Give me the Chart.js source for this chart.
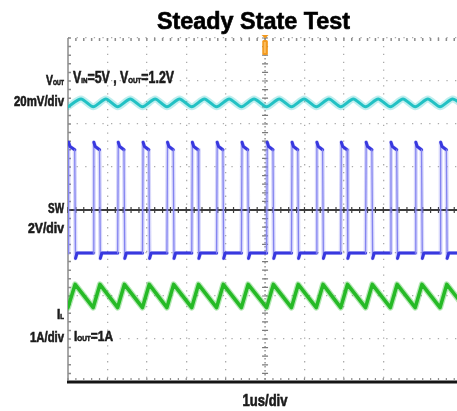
<!DOCTYPE html>
<html>
<head>
<meta charset="utf-8">
<script src="https://cdn.jsdelivr.net/npm/chart.js@4.4.1/dist/chart.umd.min.js"></script>
<style>
  html, body { margin: 0; padding: 0; background: #fff; overflow: hidden; }
</style>
</head>
<body>
<canvas id="scope" width="457" height="411"></canvas>
<script>
// time base 1 us/div, the visible screen stops a bit before the 10th division
const timeMax = 9.87;

// SW node edges (us)
const swRise = [0.00, 0.64, 1.26, 1.89, 2.51, 3.14, 3.77, 4.40, 5.04, 5.67, 6.30, 6.92, 7.55, 8.18, 8.81, 9.44, 10.07];
const swFall = [0.18, 0.81, 1.43, 2.06, 2.68, 3.31, 3.94, 4.57, 5.21, 5.84, 6.47, 7.09, 7.72, 8.35, 8.98, 9.61];
// SW levels (V): overshoot after the rising edge, flat top, droop before the fall, undershoot, low
const swLevels = [5.15, 4.95, 4.8, -0.25, 0.0];

// inductor current (A), valley at each rising edge, peak at each falling edge
const ilValley = 0.73;
const ilPeak = 1.27;

// output ripple (mV, ac coupled)
const voutValley = -2.0;
const voutPeak = 1.6;

// build the traces from the edges
const swData = [];
const ilData = [];
const voutData = [];
swRise.forEach((t, i) => {
  swData.push({x: t, y: swLevels[4]});
  swData.push({x: t + 0.015, y: swLevels[0]});
  swData.push({x: t + 0.05, y: swLevels[1]});
  ilData.push({x: t, y: ilValley});
  voutData.push({x: t, y: voutValley});
  if (i < swFall.length) {
    const f = swFall[i];
    swData.push({x: f - 0.01, y: swLevels[2]});
    swData.push({x: f + 0.01, y: swLevels[3]});
    swData.push({x: f + 0.05, y: swLevels[4]});
    ilData.push({x: f, y: ilPeak});
    voutData.push({x: f + 0.15, y: voutPeak});
  }
});

const isEdge = c => Math.abs(c.p1.parsed.y - c.p0.parsed.y) > 2;

const FONT = '"Liberation Sans", Arial, sans-serif';

function drawRuns(ctx, runs, x, y, align, width) {
  let w = 0;
  runs.forEach(r => {
    ctx.font = 'bold ' + r[1] + 'px ' + FONT;
    w += ctx.measureText(r[0]).width;
  });
  const sx = width ? width / w : 1;
  let x0 = x;
  if (align === 'right') x0 = x - w * sx;
  if (align === 'center') x0 = x - w * sx / 2;
  ctx.save();
  ctx.translate(x0, y);
  ctx.scale(sx, 1);
  ctx.textAlign = 'left';
  ctx.textBaseline = 'alphabetic';
  ctx.strokeStyle = ctx.fillStyle;
  ctx.lineWidth = 0.6;
  let cx = 0;
  runs.forEach(r => {
    ctx.font = 'bold ' + r[1] + 'px ' + FONT;
    ctx.fillText(r[0], cx, r[2] || 0);
    ctx.strokeText(r[0], cx, r[2] || 0);
    cx += ctx.measureText(r[0]).width;
  });
  ctx.restore();
}

const scopeFrame = {
  id: 'scopeFrame',
  beforeDatasetsDraw(chart) {
    const {ctx, chartArea: a} = chart;
    const x = chart.scales.x, y = chart.scales.y;
    const subX = [], subY = [];
    for (let k = 0; k <= timeMax * 5; k++) subX.push(x.getPixelForValue(k / 5));
    for (let k = -20; k <= 20; k++) subY.push(y.getPixelForValue(k / 5));
    const x0 = x.getPixelForValue(0), xc = x.getPixelForValue(5);
    const yt = y.getPixelForValue(4), yc = y.getPixelForValue(0), yb = y.getPixelForValue(-4);
    ctx.save();
    // left border + ticks
    ctx.strokeStyle = '#8c8c8c';
    ctx.lineWidth = 1.5;
    ctx.beginPath();
    ctx.moveTo(x0, yt); ctx.lineTo(x0, yb);
    subY.forEach(p => { ctx.moveTo(x0, p); ctx.lineTo(x0 + 3, p); });
    subX.forEach(p => { ctx.moveTo(p, yt); ctx.lineTo(p, yt + 3); });
    ctx.stroke();
    // centre vertical
    ctx.strokeStyle = '#7a7a7a';
    ctx.lineWidth = 1.2;
    ctx.setLineDash([1.5, 2.5]);
    ctx.beginPath();
    ctx.moveTo(xc, yt); ctx.lineTo(xc, yb);
    ctx.stroke();
    ctx.setLineDash([]);
    ctx.beginPath();
    subY.forEach(p => { ctx.moveTo(xc - 3, p); ctx.lineTo(xc + 3, p); });
    ctx.stroke();
    // centre horizontal
    ctx.strokeStyle = '#3c3c3c';
    ctx.lineWidth = 2;
    ctx.beginPath();
    ctx.moveTo(x0, yc); ctx.lineTo(a.right, yc);
    ctx.stroke();
    ctx.lineWidth = 1.2;
    ctx.beginPath();
    subX.forEach(p => { ctx.moveTo(p, yc - 3); ctx.lineTo(p, yc + 3); });
    ctx.stroke();
    // bottom
    ctx.strokeStyle = '#151515';
    ctx.lineWidth = 3;
    ctx.beginPath();
    ctx.moveTo(x0 - 1, yb); ctx.lineTo(a.right, yb);
    ctx.stroke();
    ctx.strokeStyle = '#8c8c8c';
    ctx.lineWidth = 1.2;
    ctx.beginPath();
    subX.forEach(p => { ctx.moveTo(p, yb - 4); ctx.lineTo(p, yb - 1); });
    ctx.stroke();
    ctx.restore();
  },
  afterDatasetsDraw(chart) {
    const ctx = chart.ctx;
    const xc = chart.scales.x.getPixelForValue(5);
    const yt = chart.scales.y.getPixelForValue(4);
    ctx.save();
    // trigger marker
    ctx.fillStyle = '#f29a1f';
    ctx.beginPath();
    ctx.moveTo(xc - 3.5, yt - 3); ctx.lineTo(xc + 3.5, yt - 3); ctx.lineTo(xc, yt + 0.5);
    ctx.closePath();
    ctx.fill();
    ctx.beginPath();
    ctx.roundRect(xc - 2.8, yt + 2, 5.6, 15, 1.5);
    ctx.fill();
    ctx.fillStyle = '#fbbd5e';
    ctx.fillRect(xc - 1.2, yt + 4, 2, 11);
    ctx.restore();
  },
  afterDraw(chart) {
    const ctx = chart.ctx;
    ctx.save();
    ctx.fillStyle = '#000';
    drawRuns(ctx, [['Steady State Test', 23]], 253.5, 29, 'center', 193);
    ctx.fillStyle = '#1b1b1b';
    drawRuns(ctx, [['V', 14], ['OUT', 7]], 64, 85, 'right', 18);
    drawRuns(ctx, [['20mV/div', 14]], 64, 106, 'right', 50);
    drawRuns(ctx, [['SW', 15]], 64, 213, 'right', 16);
    drawRuns(ctx, [['2V/div', 14]], 64, 233, 'right', 36);
    drawRuns(ctx, [['I', 14], ['L', 7]], 64, 319, 'right', 7);
    drawRuns(ctx, [['1A/div', 14]], 64, 342, 'right', 34);
    drawRuns(ctx, [['1us/div', 16]], 265, 406, 'center', 45);
    drawRuns(ctx, [['V', 16], ['IN', 8], ['=5V', 16], [' , ', 16], ['V', 16], ['OUT', 8], ['=1.2V', 16]], 73, 83, 'left', 101);
    drawRuns(ctx, [['I', 15], ['OUT', 8], ['=1A', 15]], 74, 341, 'left', 39);
    ctx.restore();
  }
};

new Chart(document.getElementById('scope'), {
  type: 'line',
  data: {
    datasets: [
      {data: voutData, yAxisID: 'yV', borderColor: 'rgba(40,200,200,0.3)', borderWidth: 7, tension: 0.25},
      {data: voutData, yAxisID: 'yV', borderColor: '#20bfc3', borderWidth: 3, tension: 0.25},
      {data: swData, yAxisID: 'ySW', borderColor: 'rgba(120,120,240,0.28)', borderWidth: 4},
      {data: swData, yAxisID: 'ySW', borderColor: '#2222dd', borderWidth: 3,
        segment: {
          borderColor: c => isEdge(c) ? '#8a8af0' : '#2020d8',
          borderWidth: c => isEdge(c) ? 1.3 : 3
        }},
      {data: ilData, yAxisID: 'yIL', borderColor: 'rgba(40,190,40,0.35)', borderWidth: 6},
      {data: ilData, yAxisID: 'yIL', borderColor: '#26b826', borderWidth: 3.5}
    ]
  },
  options: {
    responsive: false,
    animation: false,
    devicePixelRatio: 1,
    layout: {padding: {left: 68, top: 38, right: 0, bottom: 29}},
    elements: {point: {radius: 0}, line: {borderJoinStyle: 'round', borderCapStyle: 'round'}},
    plugins: {legend: {display: false}, tooltip: {enabled: false}, title: {display: false}},
    scales: {
      x: {
        type: 'linear', min: 0, max: timeMax,
        ticks: {display: false, stepSize: 1},
        grid: {
          drawTicks: false, lineWidth: 1.3,
          color: c => (c.tick && Number.isInteger(c.tick.value) && c.tick.value > 0 && c.tick.value !== 5) ? '#ababab' : 'rgba(0,0,0,0)'
        },
        border: {display: false, dash: [1.3, 6.58]}
      },
      y: {
        min: -4, max: 4,
        ticks: {display: false, stepSize: 1},
        grid: {
          drawTicks: false, lineWidth: 1.3,
          color: c => (c.tick && c.tick.value !== 0 && c.tick.value !== -4) ? '#ababab' : 'rgba(0,0,0,0)'
        },
        border: {display: false, dash: [1.3, 7.3]}
      },
      yV: {display: false, min: -130, max: 30},
      ySW: {display: false, min: -6, max: 10},
      yIL: {display: false, min: -1, max: 7}
    }
  },
  plugins: [scopeFrame]
});
</script>
</body>
</html>
